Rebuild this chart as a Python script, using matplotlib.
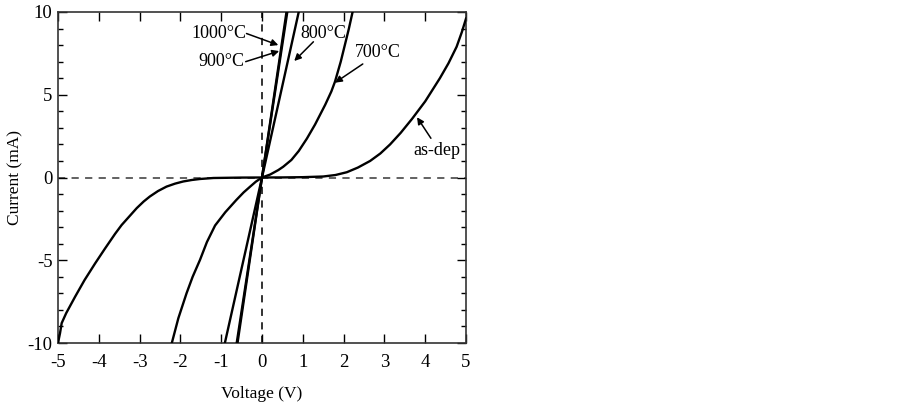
import matplotlib
matplotlib.use("Agg")
import matplotlib.pyplot as plt
from matplotlib.ticker import MultipleLocator

plt.rcParams['font.family'] = ['Liberation Serif', 'DejaVu Serif']

# ---- data (Voltage V, Current mA) ----
asdep_v = [-5.0, -4.95, -4.91, -4.8, -4.58, -4.35, -4.09, -3.85, -3.6, -3.44, -3.07,
           -2.9, -2.75, -2.55, -2.34, -2.13, -1.93, -1.72, -1.52, -1.19, -0.5, 0.0,
           0.5, 1.0, 1.5, 1.8, 2.08, 2.35, 2.65, 2.9, 3.14, 3.4, 3.68, 4.0, 4.36,
           4.57, 4.77, 4.9, 5.0]
asdep_i = [-10.0, -9.4, -8.8, -8.2, -7.2, -6.2, -5.19, -4.3, -3.4, -2.87, -1.85,
           -1.45, -1.15, -0.82, -0.55, -0.37, -0.24, -0.15, -0.09, -0.03, -0.005, 0.0,
           0.005, 0.02, 0.06, 0.15, 0.32, 0.6, 1.0, 1.45, 2.0, 2.7, 3.55, 4.6, 6.0,
           6.9, 7.9, 8.8, 9.6]

c700_v = [-2.21, -2.05, -1.85, -1.7, -1.52, -1.35, -1.15, -0.9, -0.63, -0.45, -0.29,
          -0.15, 0.0, 0.2, 0.4, 0.52, 0.72, 0.9, 1.1, 1.3, 1.55, 1.7, 1.79,
          1.93, 2.03, 2.13, 2.22]
c700_i = [-10.0, -8.5, -7.0, -6.0, -4.98, -3.9, -2.9, -2.1, -1.36, -0.9, -0.55,
          -0.25, 0.0, 0.18, 0.45, 0.65, 1.06, 1.6, 2.35, 3.2, 4.4, 5.2, 5.8,
          7.0, 8.0, 9.0, 10.0]

c800_v = [-0.91, 0.0, 0.90]
c800_i = [-10.0, 0.0, 10.0]

c900_v = [-0.62, 0.0, 0.62]
c900_i = [-10.0, 0.0, 10.0]

c1000_v = [-0.60, 0.0, 0.60]
c1000_i = [-10.0, 0.0, 10.0]

x_ticks = [-5, -4, -3, -2, -1, 0, 1, 2, 3, 4, 5]
y_ticks = [-10, -5, 0, 5, 10]

# label text, text position, arrow tail and tip
labels = ["1000°C", "900°C", "800°C", "700°C", "as-dep"]
label_xy = [(-0.37, 8.72), (-0.42, 7.0), (0.93, 8.72), (2.28, 7.55), (3.71, 1.66)]
label_ha = ["right", "right", "left", "left", "left"]
arrow_from = [(-0.38, 8.7), (-0.40, 7.0), (1.26, 8.2), (2.47, 6.86), (4.14, 2.37)]
arrow_to = [(0.40, 8.0), (0.42, 7.64), (0.79, 7.04), (1.79, 5.73), (3.80, 3.64)]

fig = plt.figure(figsize=(9.03, 4.09), dpi=100)
ax = fig.add_axes([58/903, 66/409, 408/903, 331/409])

ax.axhline(0, color='#555555', lw=1.3, ls=(0, (4, 3.5)), zorder=1)
ax.axvline(0, color='#222222', lw=1.3, ls=(0, (4, 3.5)), zorder=1)

for v, i in [(asdep_v, asdep_i), (c700_v, c700_i), (c800_v, c800_i),
             (c900_v, c900_i), (c1000_v, c1000_i)]:
    ax.plot(v, i, color='black', lw=1.7, zorder=3, solid_joinstyle='round')

for t, xy, ha, a0, a1 in zip(labels, label_xy, label_ha, arrow_from, arrow_to):
    ax.text(xy[0], xy[1], t, ha=ha, va='center', fontsize=13, zorder=4)
    ax.annotate('', xy=a1, xytext=a0,
                arrowprops=dict(arrowstyle='-|>', color='black', lw=1.1,
                                mutation_scale=10, shrinkA=0, shrinkB=0),
                zorder=4)

ax.set_xlim(-5, 5)
ax.set_ylim(-10, 10)
ax.set_xticks(x_ticks)
ax.set_xticklabels([str(t) for t in x_ticks])
ax.set_yticks(y_ticks)
ax.set_yticklabels([str(t) for t in y_ticks])
ax.yaxis.set_minor_locator(MultipleLocator(1))

ax.tick_params(axis='both', which='major', direction='in', length=6.5, width=1,
               top=True, right=True, labelsize=13.5)
ax.tick_params(axis='x', which='major', pad=8)
ax.tick_params(axis='y', which='major', pad=4)
ax.tick_params(axis='y', which='minor', direction='in', length=3.5, width=1,
               left=True, right=True)

for s in ax.spines.values():
    s.set_linewidth(1.2)
    s.set_color('#333333')

ax.set_xlabel('Voltage (V)', fontsize=12.5, labelpad=11)
ax.set_ylabel('Current (mA)', fontsize=12.5, labelpad=3)

fig.savefig('out.png', dpi=100)
